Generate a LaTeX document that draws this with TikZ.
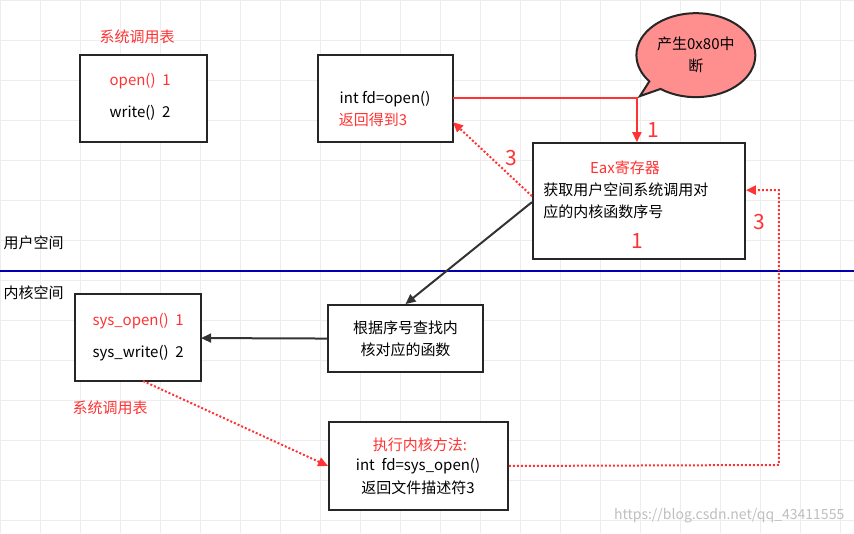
\documentclass[tikz,border=0pt]{standalone}
\usepackage{fontspec}
\setmainfont{Noto Sans CJK SC}
\usetikzlibrary{shapes.callouts,arrows.meta}
\definecolor{rd}{HTML}{FF3333}
\begin{document}
\begin{tikzpicture}[x=1pt,y=-1pt,font=\fontsize{15}{22}\selectfont,
 box/.style={draw=black!85,line width=2pt,fill=white},
 red/.style={text=rd},
 ra/.style={draw=rd,line width=2pt,-{Triangle[length=10pt,width=9pt]}},
 da/.style={draw=rd,line width=2pt,dotted,-{Triangle[length=10pt,width=9pt]}},
 ba/.style={draw=black!80,line width=2pt,-{Triangle[length=10pt,width=9pt]}}]
\fill[white] (0,0) rectangle (854,533);
\foreach \i in {0,40,...,840} \draw[black!7] (\i,0) -- (\i,533);
\foreach \j in {0,40,...,520} \draw[black!7] (0,\j) -- (854,\j);
\useasboundingbox (0,0) rectangle (854,533);
\draw[blue!70!black,line width=2.2pt] (0,271) -- (854,271);
\node[anchor=west] (us) at (0,243) {用户空间};
\node[anchor=west] (ks) at (0,293) {内核空间};
\node[red] (t1) at (137,37) {系统调用表};
\draw[box] (80,55) rectangle (207,142);
\node[red] (o1) at (140,81) {open()\ \ 1};
\node (w1) at (140,113) {write()\ \ 2};
\draw[box] (318,55) rectangle (453,142);
\coordinate (b2r) at (453,98);
\coordinate (b2d) at (453,122);
\node (fd) at (385,99) {int fd=open()};
\node[red] (rt) at (373,120) {返回得到3};
\node[ellipse callout,draw=black!85,line width=2pt,fill=rd!55,minimum width=116pt,minimum height=84pt,callout absolute pointer={(640,96)},align=center] (cl) at (696,55) {产生0x80中\\断};
\node[box,minimum width=212pt,minimum height=116pt,anchor=north west] (b3) at (532,142) {};
\node[red] (eax) at (625,168) {Eax寄存器};
\node[anchor=west] (l1) at (540,190) {获取用户空间系统调用对};
\node[anchor=west] (l2) at (540,212) {应的内核函数序号};
\node[red,font=\fontsize{21}{23}\selectfont] (n1) at (637,241) {1};
\coordinate (c1) at (637,98);
\draw[ra] (b2r) -- (c1) -- (b3.north west -| c1);
\node[red,font=\fontsize{21}{23}\selectfont] (l1a) at (653,130) {1};
\coordinate (b3l) at (532,196);
\draw[da] (b3l) -- (b2d);
\node[red,font=\fontsize{21}{23}\selectfont] (l3a) at (511,158) {3};
\node[box,minimum width=155pt,minimum height=67pt,align=center] (mid) at (405.5,338.5) {根据序号查找内\\核对应的函数};
\draw[box] (75,294) rectangle (201,381);
\coordinate (b4r) at (201,338);
\node[red] (so) at (138,321) {sys\_open()\ \ 1};
\node (sw) at (138,353) {sys\_write()\ \ 2};
\coordinate (b3a) at (532,202);
\draw[ba] (b3a) -- (mid.north);
\draw[ba] (mid.west) -- (b4r);
\node[red] (t2) at (110,408) {系统调用表};
\node[box,minimum width=179pt,minimum height=88pt,align=center,anchor=north west] (b5) at (328,421) {};
\node[red] (e1) at (420,445) {执行内核方法:};
\node (e2) at (418,466) {int\ \ fd=sys\_open()};
\node (e3) at (418,488) {返回文件描述符3};
\coordinate (b4b) at (143,381);
\draw[da] (b4b) -- (b5.west);
\coordinate (c2) at (779,465);
\coordinate (c3) at (779,190);
\draw[da] (b5.east) -- (c2) -- (c3) -- (c3 -| b3.east);
\node[red,font=\fontsize{21}{23}\selectfont] (l3b) at (759,222) {3};
\node[black!25,anchor=east,font=\fontsize{14}{16}\selectfont] (wm) at (848,516) {https://blog.csdn.net/qq\_43411555};
\end{tikzpicture}
\end{document}
